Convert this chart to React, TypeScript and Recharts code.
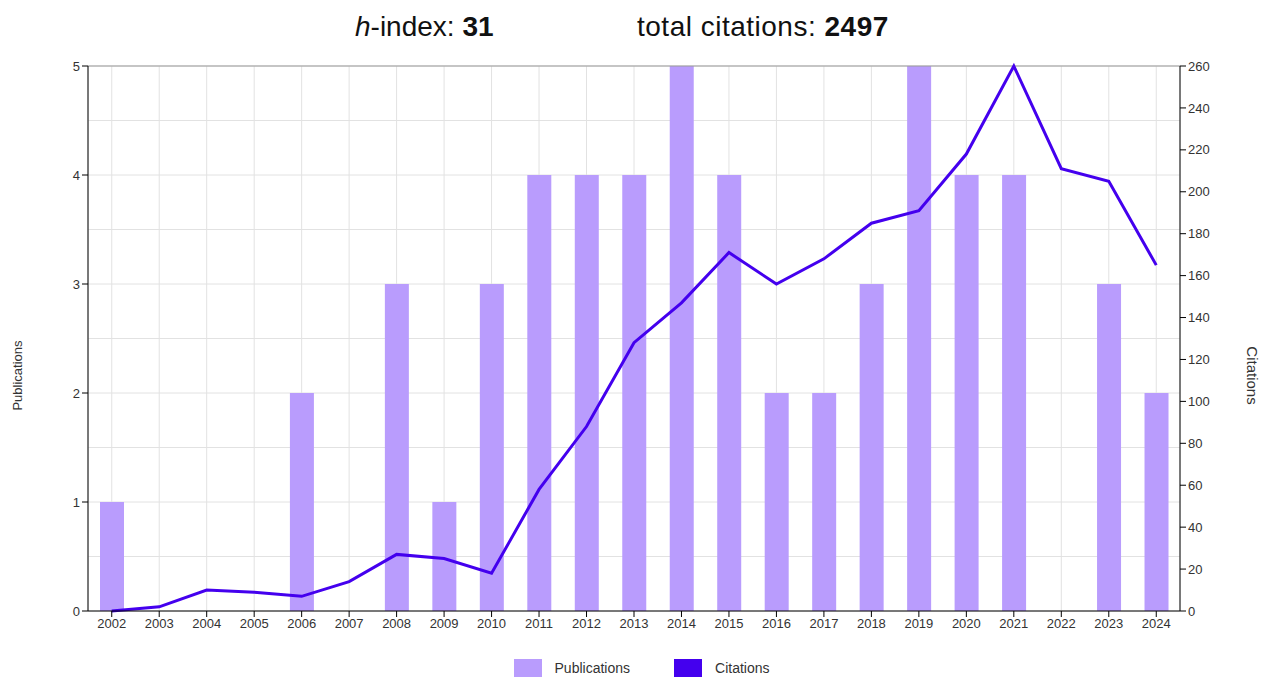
import {
  Bar,
  CartesianGrid,
  ComposedChart,
  Legend,
  Line,
  ReferenceLine,
  XAxis,
  YAxis,
} from "recharts";

const years = [
  "2002", "2003", "2004", "2005", "2006", "2007", "2008", "2009", "2010", "2011", "2012", "2013",
  "2014", "2015", "2016", "2017", "2018", "2019", "2020", "2021", "2022", "2023", "2024",
];
const publications = [1, 0, 0, 0, 2, 0, 3, 1, 3, 4, 4, 4, 5, 4, 2, 2, 3, 5, 4, 4, 0, 3, 2];
const citations = [
  0, 2, 10, 9, 7, 14, 27, 25, 18, 58, 88, 128, 147, 171, 156, 168, 185, 191, 218, 260, 211, 205, 165,
];
// grid every half publication, labels only on whole numbers
const pubTicks = [0, 0.5, 1, 1.5, 2, 2.5, 3, 3.5, 4, 4.5, 5];
const citTicks = [0, 20, 40, 60, 80, 100, 120, 140, 160, 180, 200, 220, 240, 260];

const BAR_COLOR = "#b99cfd";
const LINE_COLOR = "#4400ee";
const FONT = "'Liberation Sans', Arial, sans-serif";

const chartData = years.map((year, i) => ({
  year,
  Publications: publications[i],
  Citations: citations[i],
}));

function ChartLegend() {
  const items = [
    { name: "Publications", color: BAR_COLOR },
    { name: "Citations", color: LINE_COLOR },
  ];
  return (
    <div
      style={{
        display: "flex",
        justifyContent: "center",
        gap: 44,
        height: 37,
        paddingTop: 18,
        boxSizing: "border-box",
        fontFamily: FONT,
        fontSize: 14,
        color: "#333",
        marginLeft: 20,
      }}
    >
      {items.map((it) => (
        <div key={it.name} style={{ display: "flex", alignItems: "center", height: 18 }}>
          <span
            style={{
              display: "inline-block",
              width: 28,
              height: 18,
              background: it.color,
              marginRight: 13,
            }}
          />
          <span>{it.name}</span>
        </div>
      ))}
    </div>
  );
}

function PubTick(props: any) {
  const { x, y, payload } = props;
  if (!Number.isInteger(payload.value)) return <g />;
  return (
    <g>
      <line x1={x + 2} x2={x + 8} y1={y} y2={y} stroke="#000" />
      <text
        x={x}
        y={y}
        textAnchor="end"
        dominantBaseline="central"
        fontSize={13}
        fill="#333"
        fontFamily={FONT}
      >
        {payload.value}
      </text>
    </g>
  );
}

// rotated axis title, a little below the axis middle as in the original
function axisTitle(text: string, side: "left" | "right", size: number) {
  return (props: any) => {
    const vb = props.viewBox || {};
    const x = side === "left" ? vb.x + 17 : vb.x + vb.width - 11;
    const y = vb.y + vb.height / 2 + 37;
    return (
      <text
        x={x}
        y={y}
        transform={`rotate(${side === "left" ? -90 : 90}, ${x}, ${y})`}
        textAnchor="middle"
        dominantBaseline="central"
        fontSize={size}
        fill="#333"
        fontFamily={FONT}
      >
        {text}
      </text>
    );
  };
}

export default function App() {
  const tickStyle = { fill: "#333", fontSize: 13, fontFamily: FONT };
  return (
    <div style={{ position: "absolute", left: 0, top: 0, width: 1263, height: 678, background: "#fff" }}>
      <div
        style={{
          position: "absolute",
          top: 11,
          left: 0,
          width: 1263,
          fontFamily: FONT,
          fontSize: 28,
          color: "#111",
          whiteSpace: "nowrap",
        }}
      >
        <span style={{ position: "absolute", left: 355 }}>
          <i>h</i>-index: <b>31</b>
        </span>
        <span style={{ position: "absolute", left: 637, letterSpacing: 0.5 }}>
          total citations: <b>2497</b>
        </span>
      </div>
      <ComposedChart
        width={1263}
        height={678}
        data={chartData}
        margin={{ top: 66, right: 0, bottom: 0, left: 0 }}
      >
        <CartesianGrid yAxisId="pub" stroke="#e2e2e2" strokeWidth={1} />
        <XAxis
          dataKey="year"
          height={30}
          tick={tickStyle}
          stroke="#000"
          tickLine={{ stroke: "#000" }}
          interval={0}
        />
        <YAxis
          yAxisId="pub"
          orientation="left"
          width={88}
          domain={[0, 5]}
          ticks={pubTicks}
          interval={0}
          tick={<PubTick />}
          tickLine={false}
          stroke="#000"
          label={axisTitle("Publications", "left", 13)}
        />
        <YAxis
          yAxisId="cit"
          orientation="right"
          width={83}
          domain={[0, 260]}
          ticks={citTicks}
          interval={0}
          tick={tickStyle}
          stroke="#000"
          label={axisTitle("Citations", "right", 15)}
        />
        <ReferenceLine yAxisId="pub" y={5} stroke="#999" />
        <Legend verticalAlign="bottom" content={() => <ChartLegend />} />
        <Bar
          yAxisId="pub"
          dataKey="Publications"
          fill={BAR_COLOR}
          barSize={24}
          isAnimationActive={false}
        />
        <Line
          yAxisId="cit"
          dataKey="Citations"
          stroke={LINE_COLOR}
          strokeWidth={3}
          dot={false}
          activeDot={false}
          type="linear"
          isAnimationActive={false}
        />
      </ComposedChart>
    </div>
  );
}
